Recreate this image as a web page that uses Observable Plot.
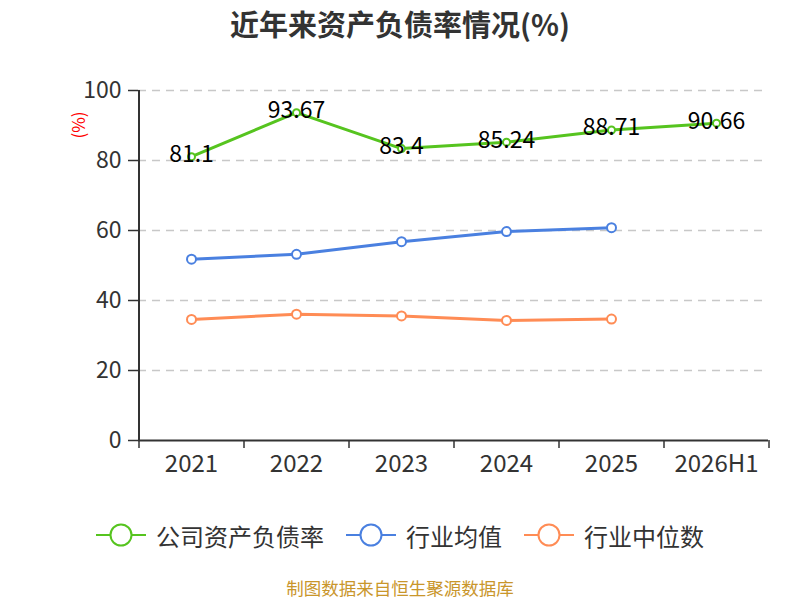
<!DOCTYPE html>
<html>
<head>
<meta charset="utf-8">
<script src="https://cdn.jsdelivr.net/npm/d3@7"></script>
<script src="https://cdn.jsdelivr.net/npm/@observablehq/plot@0.6"></script>
<style>
  html, body { margin: 0; padding: 0; background: #fff; }
  body { width: 800px; height: 600px; position: relative;
         font-family: "Noto Sans CJK SC", "Noto Sans", sans-serif; }
  #title { position: absolute; left: 0; top: 0; width: 800px; height: 46px; line-height: 46px;
           text-align: center; font-size: 29px; font-weight: bold; color: #333; }
  #chart { position: absolute; left: 0; top: 45px; }
  #ylabel { position: absolute; left: 77px; top: 125px; transform: translate(-50%, -50%) rotate(-90deg);
            color: #f00; font-size: 17px; white-space: nowrap; }
  #legend { position: absolute; left: 0; top: 516px; width: 800px; height: 38px;
            display: flex; justify-content: center; align-items: center; gap: 22px; }
  .item { display: flex; align-items: center; gap: 10px; font-size: 24px; color: #333; }
  #caption { position: absolute; left: 0; top: 575px; width: 800px; height: 25px; line-height: 25px;
             text-align: center; font-size: 17.5px; color: #c9962b; }
</style>
</head>
<body>
<div id="title">近年来资产负债率情况(%)</div>
<div id="chart"></div>
<div id="ylabel">(%)</div>
<div id="legend"></div>
<div id="caption">制图数据来自恒生聚源数据库</div>
<script>
const years = ["2021", "2022", "2023", "2024", "2025", "2026H1"];
const companyRatio = [81.1, 93.67, 83.4, 85.24, 88.71, 90.66];
const industryAvg = [51.8, 53.2, 56.8, 59.7, 60.8];
const industryMedian = [34.6, 36.1, 35.6, 34.3, 34.7];
const yTicks = [0, 20, 40, 60, 80, 100];
const seriesNames = ["公司资产负债率", "行业均值", "行业中位数"];
const colors = ["#56c41f", "#4a80e0", "#ff8c55"];

const W = 800, H = 450, mL = 138, mR = 32, mT = 45, mB = 55;
const step = (W - mL - mR) / years.length;

const toRows = (vals) => vals.map((v, i) => ({year: years[i], v}));
const comp = toRows(companyRatio);
const avg = toRows(industryAvg);
const med = toRows(industryMedian);

const plot = Plot.plot({
  width: W, height: H, marginLeft: mL, marginRight: mR, marginTop: mT, marginBottom: mB,
  style: {fontFamily: '"Noto Sans CJK SC", "Noto Sans", sans-serif', background: "#fff", color: "#333"},
  x: {type: "point", domain: years, padding: 0.5, axis: null, label: null},
  y: {domain: [0, 100], axis: null, label: null},
  marks: [
    Plot.gridY(yTicks.filter(t => t > 0), {stroke: "#c8c8c8", strokeOpacity: 1, strokeWidth: 1.5, strokeDasharray: "8,6"}),
    Plot.axisY(yTicks, {tickSize: 10, tickPadding: 7, fontSize: 23, stroke: "#333", strokeWidth: 1.5, fill: "#333", label: null}),
    Plot.axisX(years, {tickSize: 8, tickFormat: () => "", dx: -step / 2, stroke: "#333", strokeWidth: 1.5, label: null}),
    Plot.axisX([years[years.length - 1]], {tickSize: 8, tickFormat: () => "", dx: step / 2, stroke: "#333", strokeWidth: 1.5, label: null}),
    Plot.axisX(years, {tickSize: 0, tickPadding: 14, fontSize: 24, fill: "#333", label: null}),
    Plot.ruleY([0], {stroke: "#333", strokeWidth: 2}),
    Plot.ruleX([years[0]], {dx: -step / 2, stroke: "#333", strokeWidth: 2}),
    Plot.line(med, {x: "year", y: "v", stroke: colors[2], strokeWidth: 3}),
    Plot.dot(med, {x: "year", y: "v", r: 4.5, fill: "#fff", stroke: colors[2], strokeWidth: 2}),
    Plot.line(avg, {x: "year", y: "v", stroke: colors[1], strokeWidth: 3}),
    Plot.dot(avg, {x: "year", y: "v", r: 4.5, fill: "#fff", stroke: colors[1], strokeWidth: 2}),
    Plot.line(comp, {x: "year", y: "v", stroke: colors[0], strokeWidth: 3}),
    Plot.dot(comp, {x: "year", y: "v", r: 3.5, fill: "#fff", stroke: colors[0], strokeWidth: 2}),
    Plot.text(comp, {x: "year", y: "v", text: d => String(d.v), fontSize: 23, fill: "#000", dy: -2})
  ]
});
document.getElementById("chart").appendChild(plot);

const legend = document.getElementById("legend");
seriesNames.forEach((name, i) => {
  const item = document.createElement("div");
  item.className = "item";
  item.innerHTML = `<svg width="50" height="26" viewBox="0 0 50 26">
      <line x1="0" y1="13" x2="50" y2="13" stroke="${colors[i]}" stroke-width="2"/>
      <circle cx="25" cy="13" r="10.5" fill="#fff" stroke="${colors[i]}" stroke-width="2"/>
    </svg><span>${name}</span>`;
  legend.appendChild(item);
});
</script>
</body>
</html>
